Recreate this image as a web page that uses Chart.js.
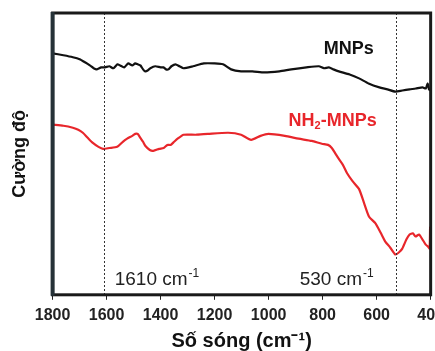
<!DOCTYPE html>
<html>
<head>
<meta charset="utf-8">
<script src="https://cdn.jsdelivr.net/npm/chart.js@4/dist/chart.umd.min.js"></script>
<style>
  html, body { margin: 0; padding: 0; background: #fff; overflow: hidden; }
  #wrap { width: 450px; height: 351px; }
</style>
</head>
<body>
<div id="wrap"><canvas id="ftir-chart"></canvas></div>
<script>
// wavenumber (cm-1) and relative intensity
const mnpsX = [1800, 1760, 1725, 1700, 1680, 1662, 1648, 1636, 1620, 1606, 1590, 1575, 1560, 1550, 1535, 1520, 1505, 1494, 1485, 1475, 1465, 1457, 1448, 1438, 1420, 1400, 1389, 1380, 1371, 1360, 1345, 1330, 1315, 1280, 1240, 1200, 1169, 1139, 1102, 1060, 1016, 960, 916, 860, 814, 795, 777, 760, 740, 700, 665, 630, 590, 560, 531, 505, 478, 455, 430, 418, 411, 406, 402];
const mnpsY = [85.7, 85.0, 84.3, 83.6, 82.5, 81.4, 80.4, 80.0, 80.7, 80.7, 81.1, 80.4, 81.8, 81.4, 80.7, 82.1, 81.4, 82.1, 81.8, 81.4, 80.0, 79.3, 79.6, 80.4, 81.1, 80.7, 80.7, 80.0, 80.0, 81.1, 81.8, 81.1, 80.4, 81.1, 82.1, 82.1, 81.8, 80.0, 79.3, 79.3, 78.9, 79.3, 80.0, 80.7, 81.1, 80.4, 80.7, 80.0, 79.3, 78.2, 76.8, 75.0, 73.6, 72.9, 72.1, 72.5, 72.9, 73.2, 73.6, 73.2, 75.0, 72.9, 72.5];

const aminX = [1800, 1760, 1725, 1705, 1688, 1670, 1651, 1630, 1613, 1590, 1561, 1540, 1524, 1505, 1494, 1485, 1475, 1465, 1457, 1440, 1427, 1405, 1389, 1375, 1363, 1350, 1337, 1315, 1270, 1225, 1150, 1102, 1065, 1030, 1001, 940, 889, 840, 803, 780, 766, 752, 740, 725, 710, 690, 665, 645, 628, 605, 585, 568, 550, 531, 518, 505, 490, 478, 466, 456, 443, 430, 419, 410, 404, 402, 400];
const aminY = [60.4, 60.0, 59.3, 58.6, 57.5, 55.7, 53.9, 52.5, 51.8, 52.1, 52.5, 54.3, 55.4, 56.4, 57.1, 57.1, 55.7, 54.3, 52.9, 51.4, 51.1, 51.8, 52.1, 53.2, 53.2, 54.3, 55.4, 56.8, 56.8, 57.1, 57.5, 56.8, 55.0, 56.4, 57.1, 56.4, 55.4, 54.6, 53.6, 53.2, 52.1, 50.0, 48.2, 46.1, 43.2, 40.4, 37.5, 32.1, 27.7, 25.4, 22.0, 18.9, 16.8, 14.3, 15.0, 16.4, 19.6, 21.4, 21.8, 20.7, 21.4, 19.6, 17.9, 17.1, 16.4, 23.9, 17.5];

const xTicks = [1800, 1600, 1400, 1200, 1000, 800, 600, 400];
const markers = [1610, 530];
const markerLabels = ['1610 cm', '530 cm'];

const toPoints = (xs, ys) => xs.map((x, i) => ({ x: x, y: ys[i] }));

// frame, dotted marker lines and text labels
const decorPlugin = {
    id: 'decor',
    afterDatasetsDraw(chart) {
        const { ctx, chartArea: a, scales } = chart;
        const xs = scales.x, ys = scales.y;
        ctx.save();
        // dotted lines
        ctx.strokeStyle = '#333';
        ctx.lineWidth = 1;
        ctx.setLineDash([2, 2]);
        markers.forEach(m => {
            const px = Math.round(xs.getPixelForValue(m)) + 0.5;
            ctx.beginPath();
            ctx.moveTo(px, a.top);
            ctx.lineTo(px, a.bottom);
            ctx.stroke();
        });
        ctx.setLineDash([]);
        // marker labels with superscript -1
        ctx.fillStyle = '#222';
        ctx.textBaseline = 'alphabetic';
        const labelPos = [[1570, 3.5], [885, 3.5]];
        markerLabels.forEach((t, i) => {
            const px = xs.getPixelForValue(labelPos[i][0]);
            const py = ys.getPixelForValue(labelPos[i][1]);
            ctx.font = '19px "Liberation Sans", Arial, sans-serif';
            ctx.fillText(t, px, py);
            const w = ctx.measureText(t).width;
            ctx.font = '12px "Liberation Sans", Arial, sans-serif';
            ctx.fillText('-1', px + w + 1, py - 8);
        });
        // series names
        ctx.font = 'bold 18px "Liberation Sans", Arial, sans-serif';
        ctx.fillStyle = '#111';
        ctx.fillText('MNPs', xs.getPixelForValue(796), ys.getPixelForValue(85.5));
        ctx.fillStyle = '#e8262b';
        let px = xs.getPixelForValue(926), py = ys.getPixelForValue(60.0);
        ctx.fillText('NH', px, py);
        let w = ctx.measureText('NH').width;
        ctx.font = 'bold 11px "Liberation Sans", Arial, sans-serif';
        ctx.fillText('2', px + w, py + 3);
        const w2 = ctx.measureText('2').width;
        ctx.font = 'bold 18px "Liberation Sans", Arial, sans-serif';
        ctx.fillText('-MNPs', px + w + w2, py);
        // frame
        ctx.strokeStyle = '#1a1a1a';
        ctx.lineWidth = 3;
        ctx.strokeRect(a.left, a.top, a.right - a.left, a.bottom - a.top);
        ctx.fillStyle = '#263238';
        ctx.fillRect(a.left - 2, a.top - 1, 4, a.bottom - a.top + 2);
        ctx.restore();
    }
};

const ftirCtx = document.getElementById('ftir-chart').getContext('2d');
const ftirChart = new Chart(ftirCtx, {
    type: 'line',
    data: {
        datasets: [{
            label: 'MNPs',
            data: toPoints(mnpsX, mnpsY),
            borderColor: '#111111',
            borderWidth: 2.2,
            pointRadius: 0,
            tension: 0.2,
            fill: false
        }, {
            label: 'NH2-MNPs',
            data: toPoints(aminX, aminY),
            borderColor: '#e8262b',
            borderWidth: 2.2,
            pointRadius: 0,
            tension: 0.2,
            fill: false
        }]
    },
    options: {
        responsive: true,
        maintainAspectRatio: false,
        animation: false,
        layout: { padding: { top: 13, left: 9, right: 0, bottom: 0 } },
        plugins: { legend: { display: false }, tooltip: { enabled: false } },
        scales: {
            x: {
                type: 'linear',
                reverse: true,
                min: 400,
                max: 1800,
                afterBuildTicks: axis => { axis.ticks = xTicks.map(v => ({ value: v })); },
                grid: { drawOnChartArea: false, drawTicks: true, tickLength: 5, color: '#222', lineWidth: 1 },
                border: { display: false },
                ticks: {
                    color: '#222',
                    padding: 6,
                    maxRotation: 0,
                    autoSkip: false,
                    callback: v => String(v),
                    font: { family: '"Liberation Sans", Arial, sans-serif', size: 16, weight: 'bold' }
                },
                title: {
                    display: true,
                    text: 'Số sóng (cm⁻¹)',
                    color: '#111',
                    padding: { top: 0, bottom: 0 },
                    font: { family: '"Liberation Sans", Arial, sans-serif', size: 20, weight: 'bold', lineHeight: 1.0 }
                }
            },
            y: {
                min: 0,
                max: 100,
                grid: { display: false },
                border: { display: false },
                ticks: { display: false },
                title: {
                    display: true,
                    text: 'Cường độ',
                    color: '#111',
                    padding: { top: 0, bottom: 14 },
                    font: { family: '"Liberation Sans", Arial, sans-serif', size: 18, weight: 'bold' }
                }
            }
        }
    },
    plugins: [decorPlugin]
});
</script>
</body>
</html>
